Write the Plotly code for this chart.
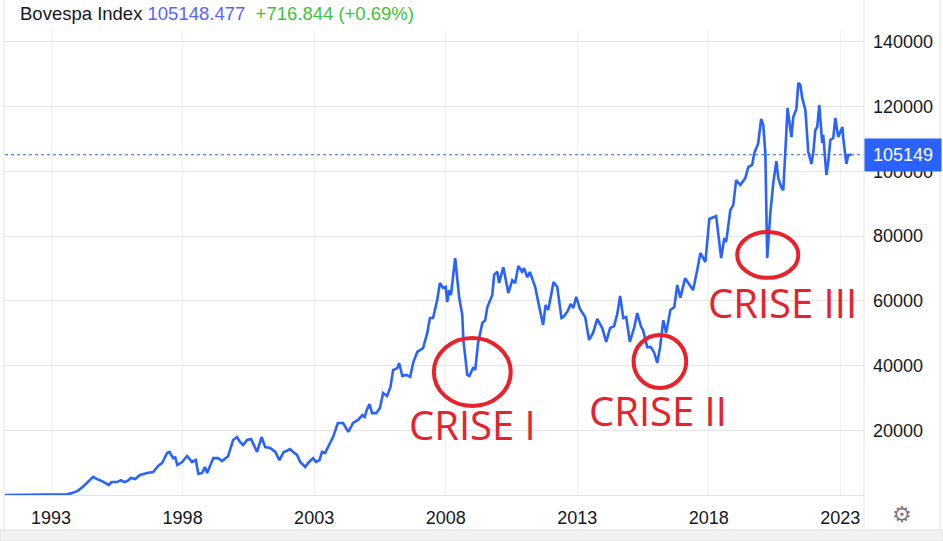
import datetime as dt
import plotly.graph_objects as go

# ---------------- data ----------------
years = [
    1991.25, 1991.8, 1992.4, 1992.9, 1993.3, 1993.6, 1993.75, 1994.0, 1994.2, 1994.4,
    1994.6, 1994.75, 1994.94, 1995.13, 1995.2, 1995.3, 1995.5, 1995.66, 1995.78, 1995.9,
    1996.04, 1996.2, 1996.38, 1996.65, 1996.88, 1997.07, 1997.22, 1997.41, 1997.5, 1997.64,
    1997.72, 1997.8, 1997.98, 1998.17, 1998.36, 1998.5, 1998.6, 1998.74, 1998.85, 1998.93,
    1999.17, 1999.35, 1999.5, 1999.73, 1999.92, 2000.07, 2000.18, 2000.3, 2000.45, 2000.6,
    2000.7, 2000.83, 2001.0, 2001.14, 2001.33, 2001.52, 2001.68, 2001.84, 2001.95, 2002.08,
    2002.2, 2002.35, 2002.47, 2002.66, 2002.77, 2002.96, 2003.07, 2003.2, 2003.3, 2003.42,
    2003.6, 2003.72, 2003.9, 2004.1, 2004.3, 2004.48, 2004.67, 2004.83, 2004.92, 2005.0,
    2005.1, 2005.2, 2005.36, 2005.5, 2005.62, 2005.77, 2005.9, 2006.0, 2006.16, 2006.23,
    2006.35, 2006.5, 2006.65, 2006.77, 2006.92, 2007.03, 2007.14, 2007.3, 2007.4, 2007.52,
    2007.68, 2007.78, 2007.9, 2008.0, 2008.06, 2008.13, 2008.2, 2008.36, 2008.51, 2008.63,
    2008.67, 2008.82, 2008.9, 2009.05, 2009.12, 2009.23, 2009.39, 2009.5, 2009.58, 2009.77,
    2009.84, 2009.96, 2010.03, 2010.19, 2010.26, 2010.38, 2010.53, 2010.64, 2010.76, 2010.9,
    2010.98, 2011.1, 2011.2, 2011.4, 2011.52, 2011.7, 2011.8, 2011.9, 2012.1, 2012.24,
    2012.4, 2012.47, 2012.62, 2012.75, 2012.85, 2012.96, 2013.1, 2013.3, 2013.45, 2013.6,
    2013.76, 2013.95, 2014.1, 2014.25, 2014.4, 2014.52, 2014.63, 2014.75, 2014.86, 2015.0,
    2015.17, 2015.28, 2015.43, 2015.5, 2015.66, 2015.8, 2015.93, 2016.04, 2016.15, 2016.27,
    2016.38, 2016.54, 2016.69, 2016.8, 2016.92, 2017.1, 2017.22, 2017.4, 2017.56, 2017.68,
    2017.87, 2018.02, 2018.28, 2018.47, 2018.59, 2018.66, 2018.82, 2018.93, 2019.04, 2019.2,
    2019.39, 2019.5, 2019.65, 2019.73, 2019.84, 2019.88, 2019.99, 2020.07, 2020.15, 2020.22,
    2020.34, 2020.45, 2020.57, 2020.64, 2020.76, 2020.83, 2020.95, 2020.99, 2021.14, 2021.21,
    2021.33, 2021.4, 2021.48, 2021.55, 2021.67, 2021.78, 2021.9, 2021.97, 2022.05, 2022.12,
    2022.2, 2022.31, 2022.35, 2022.47, 2022.54, 2022.62, 2022.73, 2022.81, 2022.92, 2023.08,
    2023.11, 2023.23, 2023.3, 2023.42,
]
values = [
    5, 10, 20, 40, 90, 250, 500, 1200, 2500, 4000,
    5600, 4900, 4300, 3400, 3100, 4000, 4000, 4600, 4000, 4300,
    5250, 4940, 6180, 6800, 7100, 8960, 9900, 12980, 13300, 11400,
    11600, 9270, 10200, 12050, 10200, 10800, 6500, 6800, 8650, 6800,
    11400, 11400, 10500, 12000, 17000, 17900, 16400, 15450, 17000, 17300,
    15450, 13300, 17900, 14800, 14500, 13300, 10800, 13300, 13600, 14200,
    13300, 12400, 10200, 8650, 9900, 11400, 10200, 10700, 13300, 13000,
    16000, 17900, 22250, 22250, 19500, 22250, 23200, 24700, 24100, 26300,
    28100, 25300, 25300, 26900, 31500, 30600, 33400, 38600, 39200, 40800,
    36800, 37100, 36500, 41100, 44200, 44800, 45400, 50100, 54700, 54700,
    60300, 65500, 64000, 64300, 59600, 63300, 61800, 73200, 61200, 55600,
    47900, 37100, 36800, 39500, 38600, 47000, 53100, 54000, 58000, 61800,
    68000, 69000, 65500, 70400, 67300, 62400, 66400, 65500, 70800, 69000,
    70100, 67300, 68900, 64300, 59600, 52500, 58700, 57200, 65800, 64300,
    54700, 55000, 56600, 59000, 57800, 61200, 57500, 55000, 47900, 50100,
    54400, 51600, 47300, 51600, 52200, 55900, 61500, 54700, 55000, 47300,
    51900, 56200, 51900, 51000, 45700, 45700, 43900, 40800, 45700, 54000,
    50100, 57200, 58100, 64900, 61000, 67000, 65500, 63300, 69500, 74800,
    72000, 85300, 86200, 73200, 79400, 78200, 88100, 89600, 97300, 95800,
    98000, 101300, 102000, 105700, 107800, 108800, 116200, 114300, 105700, 73200,
    87100, 96400, 103200, 98000, 94900, 94200, 112800, 119600, 110600, 116800,
    119300, 127300, 126700, 122700, 119000, 106000, 102300, 105700, 112800, 113700,
    120500, 108800, 111200, 98900, 102900, 109700, 110300, 116500, 110600, 113700,
    110300, 102300, 105100, 105149,
]

last_price = 105149
header_name = "Bovespa Index"
header_value = "105148.477"
header_change = "+716.844 (+0.69%)"

x_tick_years = [1993, 1998, 2003, 2008, 2013, 2018, 2023]
y_tick_vals = [20000, 40000, 60000, 80000, 100000, 120000, 140000]

crises = ["CRISE I", "CRISE II", "CRISE III"]
# ellipse centre (year, value) and half-sizes (years, value); label centre (year, value)
crisis_centers = [(2009.01, 38000), (2016.14, 41250), (2020.24, 74200)]
crisis_half = [(1.46, 10500), (1.0, 8200), (1.16, 7100)]
crisis_labels = [(2009.02, 21900), (2016.06, 26000), (2020.81, 59600)]


def to_date(y):
    yr = int(y)
    start = dt.datetime(yr, 1, 1)
    length = (dt.datetime(yr + 1, 1, 1) - start).total_seconds()
    return start + dt.timedelta(seconds=(y - yr) * length)


dates = [to_date(y) for y in years]

# ---------------- layout geometry ----------------
W, H = 943, 541
L, R, T, B = 5, 864, 29, 495  # plot area in pixels


def px(x):
    return (x - L) / (R - L)


def py(y):
    return (B - y) / (B - T)


BLUE = "#2962ff"
RED = "#e8212b"
TXT = "#131722"

fig = go.Figure()
fig.add_trace(go.Scatter(
    x=dates, y=values, mode="lines",
    line=dict(color=BLUE, width=2.6),
    hoverinfo="skip",
))

shapes = []
# last price dotted line
shapes.append(dict(type="line", xref="paper", yref="y", x0=0, x1=1,
                   y0=last_price, y1=last_price,
                   line=dict(color=BLUE, width=1, dash="dot")))
# ellipses
for (cx, cy), (hx, hy) in zip(crisis_centers, crisis_half):
    shapes.append(dict(type="circle", xref="x", yref="y",
                       x0=to_date(cx - hx), x1=to_date(cx + hx),
                       y0=cy - hy, y1=cy + hy,
                       line=dict(color=RED, width=4)))
# frame lines
BORDER = "#e0e3eb"
shapes.append(dict(type="line", xref="paper", yref="paper", x0=px(4), x1=px(4),
                   y0=py(0), y1=py(530), line=dict(color=BORDER, width=1)))
shapes.append(dict(type="line", xref="paper", yref="paper", x0=px(864), x1=px(864),
                   y0=py(0), y1=py(530), line=dict(color=BORDER, width=1)))
shapes.append(dict(type="line", xref="paper", yref="paper", x0=px(940), x1=px(940),
                   y0=py(0), y1=py(530), line=dict(color=BORDER, width=1)))
shapes.append(dict(type="rect", xref="paper", yref="paper", x0=px(0), x1=px(943),
                   y0=py(530), y1=py(541), fillcolor="#f2f2f2",
                   line=dict(color="#e0e0e0", width=1)))

annotations = []
annotations.append(dict(
    xref="paper", yref="paper", x=px(18), y=py(14), xanchor="left", yanchor="middle",
    showarrow=False, align="left",
    text=(f"<span style='color:{TXT}'>{header_name}</span>\u00a0"
          f"<span style='color:#5a62ff'>{header_value}</span>\u00a0\u00a0"
          f"<span style='color:#3cc43c'>{header_change}</span>"),
    font=dict(family="Liberation Sans, Arial, sans-serif", size=18.5, color=TXT),
))
annotations.append(dict(
    xref="paper", yref="y", x=1, y=last_price, xanchor="left", yanchor="middle",
    showarrow=False, text=str(last_price), bgcolor=BLUE,
    width=72, height=28, borderpad=2, align="center",
    font=dict(family="Liberation Sans, Arial, sans-serif", size=18, color="white"),
))
for name, (lx, ly) in zip(crises, crisis_labels):
    annotations.append(dict(
        xref="x", yref="y", x=to_date(lx), y=ly, xanchor="center", yanchor="middle",
        showarrow=False, text=name,
        font=dict(family="Open Sans, sans-serif", size=40, color=RED),
    ))
annotations.append(dict(
    xref="paper", yref="paper", x=px(902), y=py(514), xanchor="center", yanchor="middle",
    showarrow=False, text="\u2699",
    font=dict(family="DejaVu Sans", size=22, color="#787b86"),
))

fig.update_layout(
    width=W, height=H,
    margin=dict(l=L, r=W - R, t=T, b=H - B),
    paper_bgcolor="white", plot_bgcolor="white",
    showlegend=False,
    shapes=shapes, annotations=annotations,
    font=dict(family="Liberation Sans, Arial, sans-serif", size=18, color=TXT),
    xaxis=dict(
        type="date",
        range=[to_date(1991.25), to_date(2023.9)],
        tickvals=[dt.datetime(y, 1, 1) for y in x_tick_years],
        ticktext=[str(y) for y in x_tick_years],
        showgrid=True, gridcolor="#eef1f6", gridwidth=1,
        showline=True, linecolor=BORDER, linewidth=1,
        ticks="", ticklabelstandoff=6, zeroline=False,
        tickfont=dict(size=18, color=TXT),
    ),
    yaxis=dict(
        side="right",
        range=[0, 144000],
        tickvals=y_tick_vals,
        ticktext=[str(v) for v in y_tick_vals],
        showgrid=True, gridcolor="#e6e6e6", gridwidth=1,
        showline=False, zeroline=False,
        ticks="", ticklabelstandoff=8,
        tickfont=dict(size=18, color=TXT),
    ),
)

fig.write_html("out.html", config={"displayModeBar": False},
               post_script="document.body.style.margin='0px';")
